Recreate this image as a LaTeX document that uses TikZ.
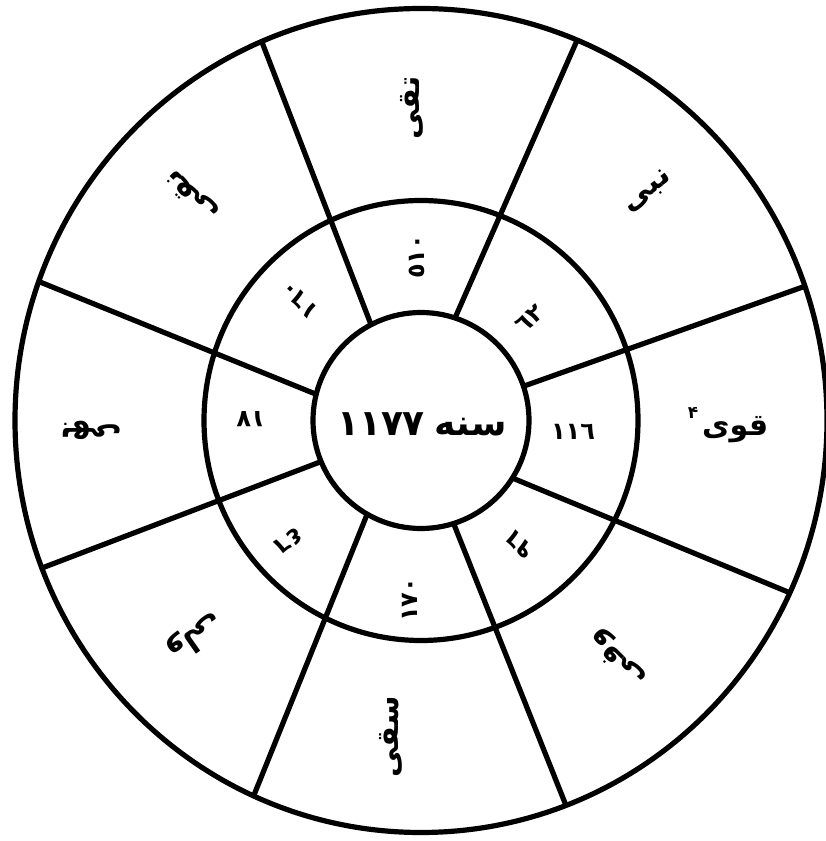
\documentclass[tikz,border=0pt]{standalone}
\usepackage{fontspec}
\newfontfamily\arabicfont[Script=Arabic]{DejaVu Sans}
\TeXXeTstate=1
\begin{document}
\begin{tikzpicture}[x=1pt,y=1pt,
  ring/.style={line width=5.2pt},
  spoke/.style={line width=5.2pt, shorten <=-12pt, shorten >=-12pt},
  word/.style={font=\arabicfont\bfseries\fontsize{30}{30}\selectfont, inner sep=0pt},
  num/.style={font=\arabicfont\bfseries\fontsize{24}{24}\selectfont, inner sep=0pt},
  core/.style={font=\arabicfont\bfseries\fontsize{36}{36}\selectfont, inner sep=0pt}]
\useasboundingbox (0,0) rectangle (825,841);
\coordinate (c) at (421,420.5);
% spoke end points
\coordinate (p1) at (527,456); \coordinate (q1) at (800,553);
\coordinate (p2) at (455,523); \coordinate (q2) at (575,796);
\coordinate (p3) at (370,519); \coordinate (q3) at (265,791);
\coordinate (p4) at (313,448); \coordinate (q4) at (40,559);
\coordinate (p5) at (320,379); \coordinate (q5) at (42,273);
\coordinate (p6) at (362,314); \coordinate (q6) at (252,41);
\coordinate (p7) at (455,314); \coordinate (q7) at (567,33);
\coordinate (p8) at (522,359); \coordinate (q8) at (800,244);
\begin{scope}
  \clip (c) ellipse [x radius=406, y radius=412];
  \foreach \i in {1,...,8} \draw[spoke] (p\i) -- (q\i);
\end{scope}
\fill[white] (c) circle (108);
\draw[ring] (c) ellipse [x radius=406, y radius=412];
\draw[ring] (c) ellipse [x radius=217, y radius=220];
\draw[ring] (c) circle (108);
% outer words
\node[word, rotate=90]  (w1) at (412,733) {\beginR تقی\endR};
\node[word, rotate=38]  (w2) at (648,649) {\beginR نبی\endR};
\node[word]             (w3) at (728,416) {\raisebox{0.55em}{\fontsize{17}{17}\selectfont ۴}\hspace{4pt}\beginR قوی\endR};
\node[word, rotate=135] (w4) at (618,183) {\beginR وفی\endR};
\node[word, rotate=90]  (w5) at (391,104) {\beginR سقی\endR};
\node[word, rotate=215] (w6) at (195,204) {\beginR ولی\endR};
\node[word, rotate=180] (w7) at (91,411)  {\beginR بهی\endR};
\node[word, rotate=135] (w8) at (192,645) {\beginR نقی\endR};
% inner numbers
\node[num, rotate=90]  (n1) at (417,584) {٥١٠};
\node[num, rotate=40]  (n2) at (530,522) {٦٢};
\node[num]             (n3) at (573,409) {١١٦};
\node[num, rotate=135] (n4) at (520,296) {٩٦};
\node[num, rotate=90]  (n5) at (410,241) {١٧٠};
\node[num, rotate=215] (n6) at (289,300) {٤٦};
\node[num, rotate=180] (n7) at (251,422) {١٧};
\node[num, rotate=135] (n8) at (300,541) {١٦٠};
% centre
\node[core] (yr) at (422,417) {١١٧٧\hspace{10pt}\beginR سنه\endR};
\end{tikzpicture}
\end{document}
